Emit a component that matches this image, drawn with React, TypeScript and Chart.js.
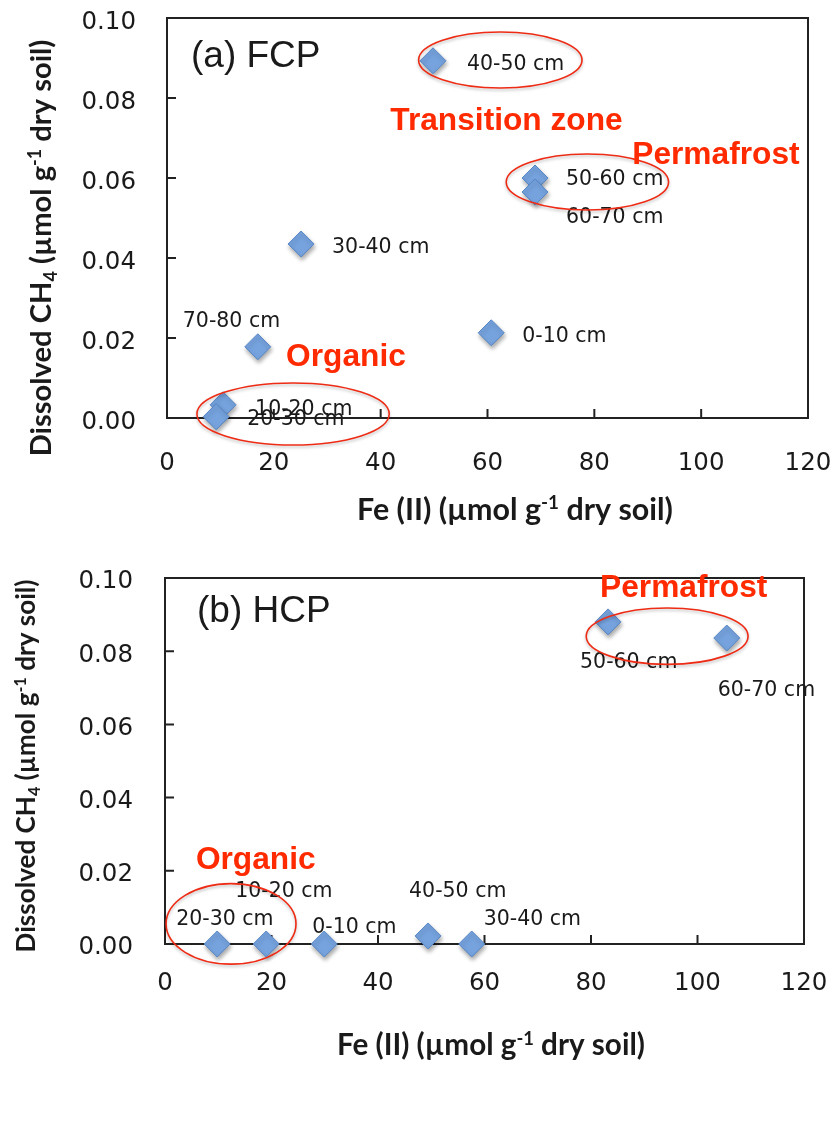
import React, { useEffect, useRef } from 'react';
import { Chart, registerables } from 'chart.js';

Chart.register(...registerables);

// ---------------- DATA ----------------
const depthsA = ['0-10 cm', '10-20 cm', '20-30 cm', '30-40 cm', '40-50 cm', '50-60 cm', '60-70 cm', '70-80 cm'];
const feA = [60.7, 10.5, 9.2, 25.1, 49.8, 68.9, 68.9, 17.0];
const ch4A = [0.0213, 0.0033, 0.0003, 0.0435, 0.0893, 0.06, 0.0565, 0.0178];

const depthsB = ['0-10 cm', '10-20 cm', '20-30 cm', '30-40 cm', '40-50 cm', '50-60 cm', '60-70 cm'];
const feB = [29.9, 19.0, 9.8, 57.6, 49.4, 83.2, 105.5];
const ch4B = [0, 0, 0, 0, 0.0022, 0.088, 0.0836];

const xMin = 0;
const xMax = 120;
const xStep = 20;
const yMin = 0;
const yMax = 0.1;
const yStep = 0.02;

const titleA = '(a) FCP';
const titleB = '(b) HCP';

// zone annotations (text, x value, y value)
const zonesA: [string, number, number][] = [
  ['Transition zone', 41.8, 0.0743],
  ['Permafrost', 87.1, 0.0658],
  ['Organic', 22.3, 0.0153],
];
const zonesB: [string, number, number][] = [
  ['Permafrost', 81.7, 0.0973],
  ['Organic', 5.8, 0.023],
];

// ellipses (center x, center y, radius x, radius y) in data units
const ellipsesA: [number, number, number, number][] = [
  [62.4, 0.0895, 15.3, 0.007],
  [78.7, 0.059, 15.2, 0.007],
  [23.6, 0.001, 18.0, 0.00775],
];
const ellipsesB: [number, number, number, number][] = [
  [12.4, 0.0055, 12.2, 0.011],
  [94.3, 0.0841, 15.2, 0.0077],
];

// ---------------- LAYOUT (pixels) ----------------
const labelOffsetsA: [number, number][] = [
  [31, 4], [32, 5], [31, 3], [31, 4], [34, 4], [31, 2], [31, 26], [-75, -25],
];
const labelOffsetsB: [number, number][] = [
  [-12, -16], [-31, -52], [-41, -24], [12, -24], [-19, -44], [-28, 41], [-9, 53],
];

type Seg = { t: string; k?: 'sup' | 'sub' };
const xTitleSegs: Seg[] = [{ t: 'Fe (II) (\u00b5mol g' }, { t: '-1', k: 'sup' }, { t: ' dry soil)' }];
const yTitleSegs: Seg[] = [
  { t: 'Dissolved CH' },
  { t: '4', k: 'sub' },
  { t: ' (\u00b5mol g' },
  { t: '-1', k: 'sup' },
  { t: ' dry soil)' },
];

interface PanelCfg {
  depths: string[];
  xs: number[];
  ys: number[];
  offsets: [number, number][];
  zones: [string, number, number][];
  ellipses: [number, number, number, number][];
  title: string;
  titlePos: [number, number];
  height: number;
  area: { left: number; top: number; right: number; bottom: number };
  xTickPad: number;
  yTickPad: number;
  yLabelOffset: number;
  xTitle: [number, number, number];
  yTitle: [number, number, number];
}

const W = 835;

const panelA: PanelCfg = {
  depths: depthsA,
  xs: feA,
  ys: ch4A,
  offsets: labelOffsetsA,
  zones: zonesA,
  ellipses: ellipsesA,
  title: titleA,
  titlePos: [191, 57],
  height: 540,
  area: { left: 167, top: 18, right: 808, bottom: 418 },
  xTickPad: 31,
  yTickPad: 31,
  yLabelOffset: 5,
  xTitle: [515, 509, 316],
  yTitle: [41, 248, 417],
};

const panelB: PanelCfg = {
  depths: depthsB,
  xs: feB,
  ys: ch4B,
  offsets: labelOffsetsB,
  zones: zonesB,
  ellipses: ellipsesB,
  title: titleB,
  titlePos: [197, 72],
  height: 587,
  area: { left: 165, top: 38, right: 804, bottom: 404 },
  xTickPad: 25,
  yTickPad: 32,
  yLabelOffset: 4,
  xTitle: [491, 505, 308],
  yTitle: [26, 226, 373],
};

const INK = '#1a1a1a';
const RED = '#ff2a00';
const TITLE_FONT = 'Lato, "Open Sans", sans-serif';

function richWidth(ctx: CanvasRenderingContext2D, segs: Seg[], size: number) {
  let w = 0;
  for (const s of segs) {
    ctx.font = `bold ${s.k ? size * 0.62 : size}px ${TITLE_FONT}`;
    w += ctx.measureText(s.t).width;
  }
  return w;
}

function drawRich(ctx: CanvasRenderingContext2D, segs: Seg[], target: number) {
  const size = (100 * target) / richWidth(ctx, segs, 100);
  const total = richWidth(ctx, segs, size);
  let x = -total / 2;
  const base = size * 0.35;
  ctx.fillStyle = INK;
  ctx.textAlign = 'left';
  ctx.textBaseline = 'alphabetic';
  for (const s of segs) {
    const fs = s.k ? size * 0.62 : size;
    ctx.font = `bold ${fs}px ${TITLE_FONT}`;
    const dy = s.k === 'sup' ? -size * 0.36 : s.k === 'sub' ? size * 0.2 : 0;
    ctx.fillText(s.t, x, base + dy);
    x += ctx.measureText(s.t).width;
  }
}

function zeroPad(s: any) {
  s.paddingTop = 0;
  s.paddingBottom = 0;
  s.paddingLeft = 0;
  s.paddingRight = 0;
}

function makeConfig(p: PanelCfg): any {
  const plugin = {
    id: 'decor',
    beforeDatasetsDraw(chart: any) {
      const ctx: CanvasRenderingContext2D = chart.ctx;
      const { left, top, right, bottom } = chart.chartArea;
      const xs = chart.scales.x;
      const ys = chart.scales.y;
      ctx.save();
      ctx.strokeStyle = '#222';
      ctx.lineWidth = 2;
      ctx.strokeRect(left, top, right - left, bottom - top);
      ctx.beginPath();
      for (const t of xs.ticks) {
        const px = xs.getPixelForValue(t.value);
        ctx.moveTo(px, bottom);
        ctx.lineTo(px, bottom - 9);
      }
      for (const t of ys.ticks) {
        const py = ys.getPixelForValue(t.value);
        ctx.moveTo(left, py);
        ctx.lineTo(left + 9, py);
      }
      ctx.stroke();
      ctx.restore();
      ctx.save();
      ctx.shadowColor = 'rgba(0,0,0,0.35)';
      ctx.shadowBlur = 4;
      ctx.shadowOffsetX = 1;
      ctx.shadowOffsetY = 3;
    },
    afterDatasetsDraw(chart: any) {
      const ctx: CanvasRenderingContext2D = chart.ctx;
      ctx.restore();
      const xs = chart.scales.x;
      const ys = chart.scales.y;
      ctx.save();
      // point labels
      ctx.font = '20.5px "DejaVu Sans", sans-serif';
      ctx.fillStyle = INK;
      ctx.textAlign = 'left';
      ctx.textBaseline = 'middle';
      const meta = chart.getDatasetMeta(0);
      meta.data.forEach((pt: any, i: number) => {
        const [dx, dy] = p.offsets[i];
        ctx.fillText(p.depths[i], pt.x + dx, pt.y + dy);
      });
      // ellipses
      ctx.strokeStyle = '#ee2b14';
      ctx.lineWidth = 1.6;
      ctx.shadowColor = 'rgba(0,0,0,0.25)';
      ctx.shadowBlur = 3;
      ctx.shadowOffsetY = 2;
      for (const [cx, cy, rx, ry] of p.ellipses) {
        const px = xs.getPixelForValue(cx);
        const py = ys.getPixelForValue(cy);
        const prx = Math.abs(xs.getPixelForValue(cx + rx) - px);
        const pry = Math.abs(ys.getPixelForValue(cy + ry) - py);
        ctx.beginPath();
        ctx.ellipse(px, py, prx, pry, 0, 0, Math.PI * 2);
        ctx.stroke();
      }
      ctx.shadowColor = 'transparent';
      // zone labels
      ctx.font = 'bold 31.7px "Liberation Sans", Arial, sans-serif';
      ctx.fillStyle = RED;
      for (const [txt, zx, zy] of p.zones) {
        ctx.fillText(txt, xs.getPixelForValue(zx), ys.getPixelForValue(zy));
      }
      // panel title
      ctx.font = '37px "Liberation Sans", Arial, sans-serif';
      ctx.fillStyle = INK;
      ctx.fillText(p.title, p.titlePos[0], p.titlePos[1]);
      // axis titles
      ctx.save();
      ctx.translate(p.xTitle[0], p.xTitle[1]);
      drawRich(ctx, xTitleSegs, p.xTitle[2]);
      ctx.restore();
      ctx.save();
      ctx.translate(p.yTitle[0], p.yTitle[1]);
      ctx.rotate(-Math.PI / 2);
      drawRich(ctx, yTitleSegs, p.yTitle[2]);
      ctx.restore();
      ctx.restore();
    },
  };

  return {
    type: 'scatter',
    data: {
      datasets: [
        {
          data: p.xs.map((x, i) => ({ x, y: p.ys[i] })),
          pointStyle: 'rectRot',
          pointRadius: 13,
          pointHoverRadius: 13,
          backgroundColor: '#76a3de',
          borderColor: '#5787c6',
          borderWidth: 1,
          clip: false,
        },
      ],
    },
    options: {
      responsive: false,
      animation: false,
      devicePixelRatio: 1,
      layout: {
        padding: { left: 0, top: p.area.top, right: W - p.area.right, bottom: 0 },
      },
      plugins: { legend: { display: false }, tooltip: { enabled: false } },
      events: [],
      scales: {
        x: {
          type: 'linear',
          min: xMin,
          max: xMax,
          grid: { display: false, drawTicks: false },
          border: { display: false },
          ticks: {
            stepSize: xStep,
            padding: p.xTickPad,
            color: INK,
            font: { family: '"DejaVu Sans", sans-serif', size: 24.5 },
            maxRotation: 0,
          },
          afterFit: (s: any) => {
            s.height = p.height - p.area.bottom;
            zeroPad(s);
          },
        },
        y: {
          type: 'linear',
          min: yMin,
          max: yMax,
          grid: { display: false, drawTicks: false },
          border: { display: false },
          ticks: {
            stepSize: yStep,
            padding: p.yTickPad,
            labelOffset: p.yLabelOffset,
            color: INK,
            font: { family: '"DejaVu Sans", sans-serif', size: 24.5 },
            callback: (v: any) => Number(v).toFixed(2),
          },
          afterFit: (s: any) => {
            s.width = p.area.left;
            zeroPad(s);
          },
        },
      },
    },
    plugins: [plugin],
  };
}

function Panel({ cfg, top }: { cfg: PanelCfg; top: number }) {
  const ref = useRef<HTMLCanvasElement | null>(null);
  useEffect(() => {
    if (!ref.current) return;
    const chart = new Chart(ref.current, makeConfig(cfg));
    return () => chart.destroy();
  }, [cfg]);
  return (
    <canvas
      ref={ref}
      width={W}
      height={cfg.height}
      style={{ position: 'absolute', left: 0, top, width: W, height: cfg.height, display: 'block' }}
    />
  );
}

export default function App() {
  return (
    <div style={{ position: 'absolute', left: 0, top: 0, width: W, height: 1127, background: '#fff' }}>
      <Panel cfg={panelA} top={0} />
      <Panel cfg={panelB} top={540} />
    </div>
  );
}
